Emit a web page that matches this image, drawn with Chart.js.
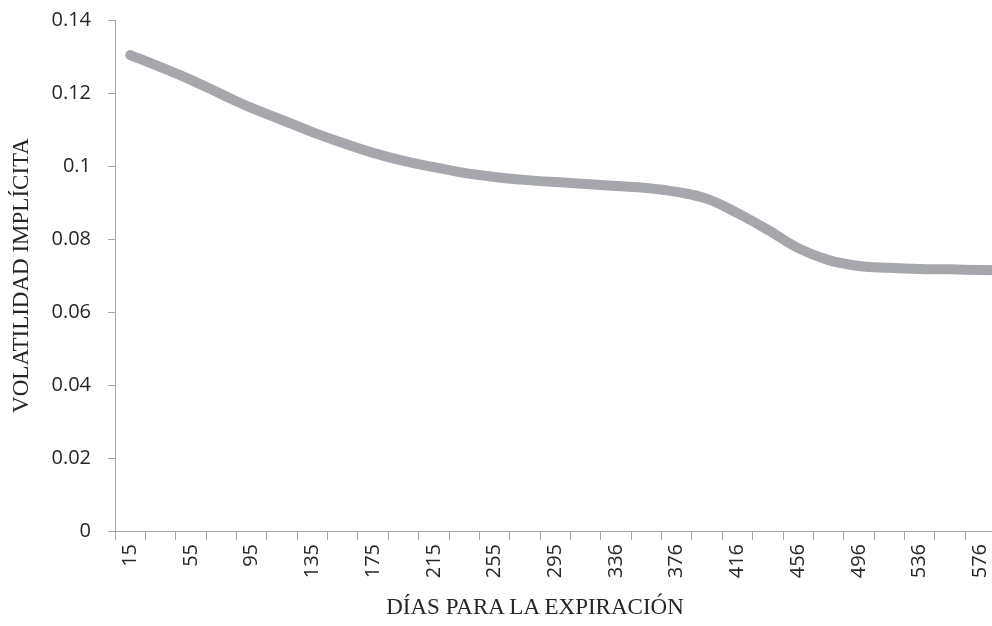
<!DOCTYPE html>
<html>
<head>
<meta charset="utf-8">
<script src="https://cdn.jsdelivr.net/npm/chart.js@4/dist/chart.umd.min.js"></script>
<style>
  html, body { margin: 0; padding: 0; background: #ffffff; overflow: hidden; }
  #wrap { position: relative; width: 1026px; height: 626px; }
  #xtitle {
    position: absolute; left: 0; width: 1070px; top: 593px;
    text-align: center; font-family: 'Liberation Serif', serif; font-size: 23px;
    color: #262626; line-height: 28px; white-space: nowrap;
  }
</style>
</head>
<body>
<div id="wrap"><canvas id="c"></canvas><div id="xtitle"></div></div>
<script>
const categories = [15, 35, 55, 75, 95, 115, 135, 155, 175, 195, 215, 235, 255, 275, 295,
  315, 336, 356, 376, 396, 416, 436, 456, 476, 496, 516, 536, 556, 576, 596];
const volatility = [0.1304, 0.1271, 0.1236, 0.1197, 0.1159, 0.1126, 0.1093, 0.1063, 0.1036, 0.1014,
  0.0997, 0.0981, 0.0970, 0.0962, 0.0956, 0.0951, 0.0945, 0.0940, 0.0929, 0.0910,
  0.0871, 0.0825, 0.0775, 0.0742, 0.0726, 0.0721, 0.0718, 0.0717, 0.0715, 0.0714];
const yTicks = [0, 0.02, 0.04, 0.06, 0.08, 0.1, 0.12, 0.14];
const xTitle = 'DÍAS PARA LA EXPIRACIÓN';
const yTitle = 'VOLATILIDAD IMPLÍCITA';

document.getElementById('xtitle').textContent = xTitle;

const axisColor = '#a6a6a6';
const tickFont = { family: 'Open Sans', size: 20 };
const titleFont = { family: 'Liberation Serif', size: 23 };

new Chart(document.getElementById('c'), {
  type: 'line',
  data: {
    labels: categories.map(String),
    datasets: [{
      data: volatility,
      borderColor: '#a6a7ac',
      borderWidth: 10,
      borderCapStyle: 'round',
      borderJoinStyle: 'round',
      pointRadius: 0,
      tension: 0.4,
      fill: false
    }]
  },
  options: {
    responsive: true,
    maintainAspectRatio: false,
    animation: false,
    events: [],
    layout: { padding: { top: 20, right: 0, bottom: 0, left: 0 } },
    plugins: { legend: { display: false }, tooltip: { enabled: false } },
    scales: {
      x: {
        type: 'category',
        offset: true,
        grid: {
          offset: true,
          drawOnChartArea: false,
          drawTicks: true,
          tickLength: 9,
          color: axisColor
        },
        border: { display: true, color: axisColor, width: 1 },
        ticks: {
          autoSkip: false,
          maxRotation: 90,
          minRotation: 90,
          padding: 4,
          color: '#262626',
          font: tickFont,
          callback: function (v, i) { return i % 2 === 0 ? this.getLabelForValue(v) : ''; }
        },
        title: { display: false },
        afterFit: function (s) { s.height = 95; s.paddingLeft = 0; s.paddingRight = 0; }
      },
      y: {
        min: 0,
        max: 0.14,
        afterBuildTicks: function (s) { s.ticks = yTicks.map(v => ({ value: v })); },
        grid: {
          drawOnChartArea: false,
          drawTicks: true,
          tickLength: 7,
          color: axisColor
        },
        border: { display: true, color: axisColor, width: 1 },
        ticks: {
          padding: 17,
          color: '#262626',
          font: tickFont,
          callback: function (v) { return String(v); }
        },
        title: {
          display: true,
          text: yTitle,
          color: '#262626',
          font: titleFont,
          padding: { top: 8, bottom: 0 }
        },
        afterFit: function (s) { s.width = 115; s.paddingTop = 0; s.paddingBottom = 0; }
      }
    }
  }
});
</script>
</body>
</html>
